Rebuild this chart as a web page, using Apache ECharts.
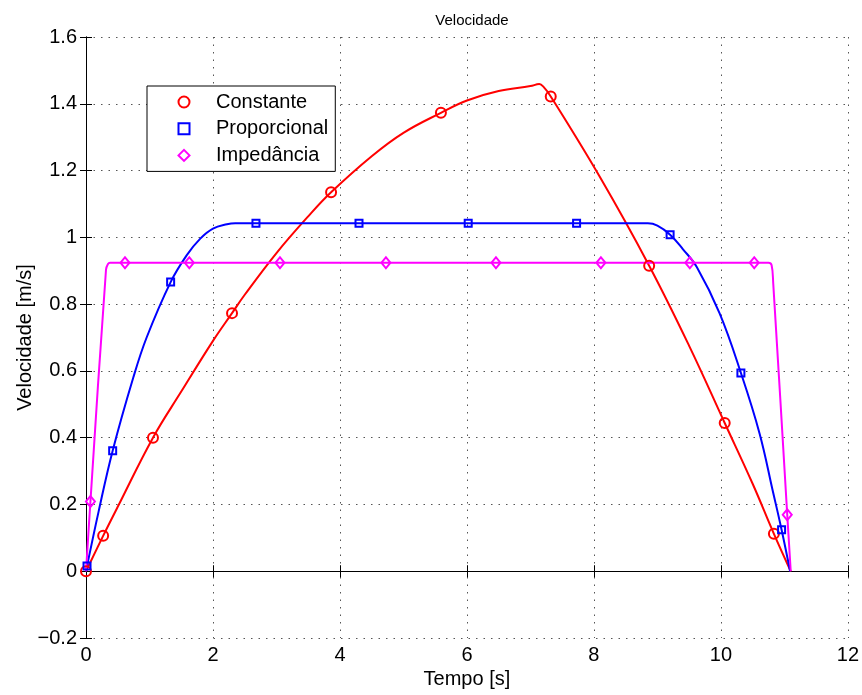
<!DOCTYPE html>
<html><head><meta charset="utf-8">
<script src="https://cdn.jsdelivr.net/npm/echarts@6/dist/echarts.min.js"></script>
<style>html,body{margin:0;padding:0;background:#fff}#c{width:862px;height:695px}</style>
</head><body><div id="c"></div>
<script>
const chartTitle = 'Velocidade';
const xName = 'Tempo [s]';
const yName = 'Velocidade [m/s]';
const seriesNames = ['Constante', 'Proporcional', 'Impedância'];
const seriesColors = ['#ff0000', '#0000ff', '#ff00ff'];

const xMin = 0, xMax = 12, xInterval = 2;
const xTickLabels = ['0', '2', '4', '6', '8', '10', '12'];
const yMin = -0.2, yMax = 1.6, yInterval = 0.2;
const yTickLabels = ['\u22120.2', '0', '0.2', '0.4', '0.6', '0.8', '1', '1.2', '1.4', '1.6'];

// Constante: curve
const constLineT = [0, 0.27, 0.5, 1.055, 1.5, 2, 2.3, 2.5, 3, 3.5, 3.86, 4.5, 5, 5.59, 6, 6.5, 7, 7.14, 7.2, 7.32, 8.09, 8.87, 9.5, 10.06, 10.5, 10.835, 11.1];
const constLineV = [0, 0.106, 0.193, 0.40, 0.538, 0.69, 0.773, 0.828, 0.953, 1.063, 1.135, 1.243, 1.313, 1.373, 1.41, 1.438, 1.453, 1.459, 1.452, 1.422, 1.182, 0.915, 0.675, 0.444, 0.262, 0.112, 0];
// Constante: markers
const constMarkT = [0, 0.27, 1.055, 2.30, 3.86, 5.59, 7.32, 8.87, 10.06, 10.835];
const constMarkV = [0, 0.106, 0.40, 0.773, 1.135, 1.373, 1.422, 0.915, 0.444, 0.112];

// Proporcional: curve
const propLineT = [0, 0.2, 0.42, 0.745, 0.955, 1.333, 1.585, 1.8, 2.0, 2.22, 2.35, 8.85, 9.0, 9.2, 9.4, 9.62, 9.98, 10.315, 10.61, 10.82, 10.956, 11.09];
const propLineV = [0, 0.18, 0.361, 0.58, 0.70, 0.866, 0.946, 0.996, 1.026, 1.039, 1.042, 1.042, 1.035, 1.008, 0.965, 0.911, 0.772, 0.594, 0.412, 0.238, 0.124, 0];
// Proporcional: markers
const propMarkT = [0.016, 0.42, 1.333, 2.677, 4.30, 6.02, 7.727, 9.2, 10.315, 10.956];
const propMarkV = [0.016, 0.361, 0.866, 1.042, 1.042, 1.042, 1.042, 1.008, 0.594, 0.124];

// Impedância: curve
const impLineT = [0, 0.07, 0.315, 0.346, 0.378, 10.75, 10.798, 10.824, 11.045, 11.1];
const impLineV = [0, 0.209, 0.903, 0.92, 0.924, 0.924, 0.917, 0.863, 0.169, 0];
// Impedância: markers
const impMarkT = [0.07, 0.614, 1.627, 3.055, 4.724, 6.457, 8.11, 9.51, 10.525, 11.045];
const impMarkV = [0.209, 0.924, 0.924, 0.924, 0.924, 0.924, 0.924, 0.924, 0.924, 0.169];

const FONT = "'Liberation Sans', Arial, Helvetica, sans-serif";
const zip = (a, b) => a.map((t, i) => [t, b[i]]);

const lines = [zip(constLineT, constLineV), zip(propLineT, propLineV), zip(impLineT, impLineV)];
const marks = [zip(constMarkT, constMarkV), zip(propMarkT, propMarkV), zip(impMarkT, impMarkV)];
const symbols = ['circle', 'rect', 'diamond'];
const symbolSizes = [10, 7, [9, 11]];

const series = [];
for (let i = 0; i < 3; i++) {
  series.push({
    name: seriesNames[i] + ' (curva)', type: 'line', data: lines[i], showSymbol: false,
    symbol: 'none', smooth: 0.4, lineStyle: { color: seriesColors[i], width: 2 }, itemStyle: { color: seriesColors[i] },
    z: 2, animation: false, silent: true
  });
}
for (let i = 0; i < 3; i++) {
  series.push({
    name: seriesNames[i], type: 'scatter', data: marks[i], symbol: symbols[i], symbolSize: symbolSizes[i],
    itemStyle: { color: 'rgba(255,255,255,0)', borderColor: seriesColors[i], borderWidth: 2, opacity: 1 },
    z: 3, animation: false, silent: true
  });
}

const chart = echarts.init(document.getElementById('c'), null, { renderer: 'canvas' });
const axisLineStyle = { color: '#000', width: 1 };
const gridDash = { color: '#555', width: 1, type: [1.5, 6] };
chart.setOption({
  backgroundColor: '#fff',
  animation: false,
  title: {
    text: chartTitle, left: 467, top: 8, textAlign: 'center',
    textStyle: { fontSize: 15, fontWeight: 'normal', color: '#000', fontFamily: FONT }
  },
  grid: { left: 86, right: 14, top: 37, bottom: 57, containLabel: false },
  legend: {
    left: 147, top: 86, orient: 'vertical',
    padding: [6, 7, 6, 30.5], itemWidth: 11, itemHeight: 11, itemGap: 6.7,
    backgroundColor: '#fff', borderColor: '#000', borderWidth: 1,
    selectedMode: false,
    textStyle: { fontSize: 20, color: '#000', fontFamily: FONT, lineHeight: 20, padding: [0, 0, 0, 21.5] },
    data: seriesNames
  },
  xAxis: [{
    type: 'value', min: xMin, max: xMax, interval: xInterval, position: 'bottom',
    name: xName, nameLocation: 'middle', nameGap: 31, nameMoveOverlap: false,
    nameTextStyle: { fontSize: 20, color: '#000', fontFamily: FONT },
    axisLine: { show: true, lineStyle: axisLineStyle },
    axisTick: { show: true, inside: true, length: 6, lineStyle: { color: '#000' } },
    axisLabel: { fontSize: 20, color: '#000', fontFamily: FONT, margin: 7,
      formatter: v => xTickLabels[Math.round((v - xMin) / xInterval)] },
    splitLine: { show: true, lineStyle: gridDash }
  }, {
    type: 'value', min: xMin, max: xMax, interval: xInterval, position: 'top',
    axisLine: { show: true, lineStyle: axisLineStyle },
    axisTick: { show: true, inside: true, length: 6, lineStyle: { color: '#000' } },
    axisLabel: { show: false }, splitLine: { show: false }
  }],
  yAxis: [{
    type: 'value', min: yMin, max: yMax, interval: yInterval, position: 'left',
    name: yName, nameLocation: 'middle', nameGap: 51, nameMoveOverlap: false,
    nameTextStyle: { fontSize: 20, color: '#000', fontFamily: FONT },
    axisLine: { show: true, lineStyle: axisLineStyle },
    axisTick: { show: true, inside: true, length: 6, lineStyle: { color: '#000' } },
    axisLabel: { fontSize: 20, color: '#000', fontFamily: FONT, margin: 9,
      formatter: v => yTickLabels[Math.round((v - yMin) / yInterval)] },
    splitLine: { show: true, lineStyle: gridDash }
  }, {
    type: 'value', min: yMin, max: yMax, interval: yInterval, position: 'right',
    axisLine: { show: true, lineStyle: axisLineStyle },
    axisTick: { show: true, inside: true, length: 6, lineStyle: { color: '#000' } },
    axisLabel: { show: false }, splitLine: { show: false }
  }],
  series: series
});
</script></body></html>
